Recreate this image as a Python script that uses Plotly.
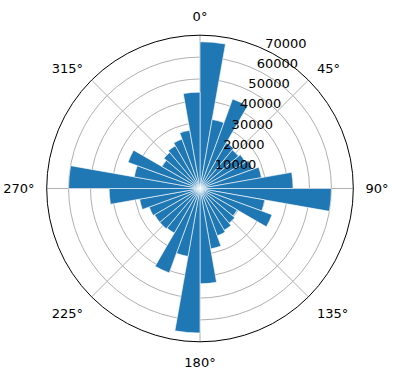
import plotly.graph_objects as go

directions = [0, 10, 20, 30, 40, 50, 60, 70, 80, 90, 100, 110, 120, 130, 140, 150, 160, 170,
              180, 190, 200, 210, 220, 230, 240, 250, 260, 270, 280, 290, 300, 310, 320, 330, 340, 350]
counts = [67000, 32000, 43500, 24000, 23000, 24000, 25500, 28500, 42500, 60000, 30000, 35000,
          19600, 20700, 22000, 23000, 28000, 43500, 66000, 31500, 41000, 23500, 24000, 24000,
          24700, 28000, 41500, 60000, 30500, 35000, 20000, 21500, 22500, 24000, 27000, 44000]
bin_width = 10
angle_ticks = [0, 45, 90, 135, 180, 225, 270, 315]
angle_labels = [f"{a}°" for a in angle_ticks]
r_ticks = [10000, 20000, 30000, 40000, 50000, 60000, 70000]

fig = go.Figure()
fig.add_trace(go.Barpolar(
    r=counts,
    theta=[d + bin_width / 2 for d in directions],
    width=[bin_width] * len(directions),
    marker=dict(color="#1f77b4", line=dict(color="white", width=0.6)),
))

W, H = 396, 380
cx, cy, R = 200, 188.5, 153.3
fig.update_layout(
    width=W, height=H,
    margin=dict(l=0, r=0, t=0, b=0),
    paper_bgcolor="white",
    showlegend=False,
    font=dict(family="DejaVu Sans", size=13, color="black"),
    polar=dict(
        domain=dict(x=[(cx - R) / W, (cx + R) / W], y=[(H - cy - R) / H, (H - cy + R) / H]),
        bgcolor="white",
        angularaxis=dict(
            rotation=90, direction="clockwise",
            tickmode="array", tickvals=angle_ticks, ticktext=angle_labels,
            showgrid=True, gridcolor="#b0b0b0", gridwidth=0.8,
            showline=True, linecolor="black", linewidth=1,
            ticks="outside", ticklen=9, tickcolor="rgba(0,0,0,0)",
            layer="above traces",
            tickfont=dict(size=13),
        ),
        radialaxis=dict(
            range=[0, 70000], tickmode="array", tickvals=r_ticks,
            ticktext=[f"{v}<br> " for v in r_ticks],
            showgrid=True, gridcolor="#b0b0b0", gridwidth=0.8,
            showline=False, ticks="", angle=67.5, tickangle=67.5,
            side="clockwise",
            layer="above traces",
            tickfont=dict(size=13),
        ),
    ),
)

fig.write_html("out.html")
